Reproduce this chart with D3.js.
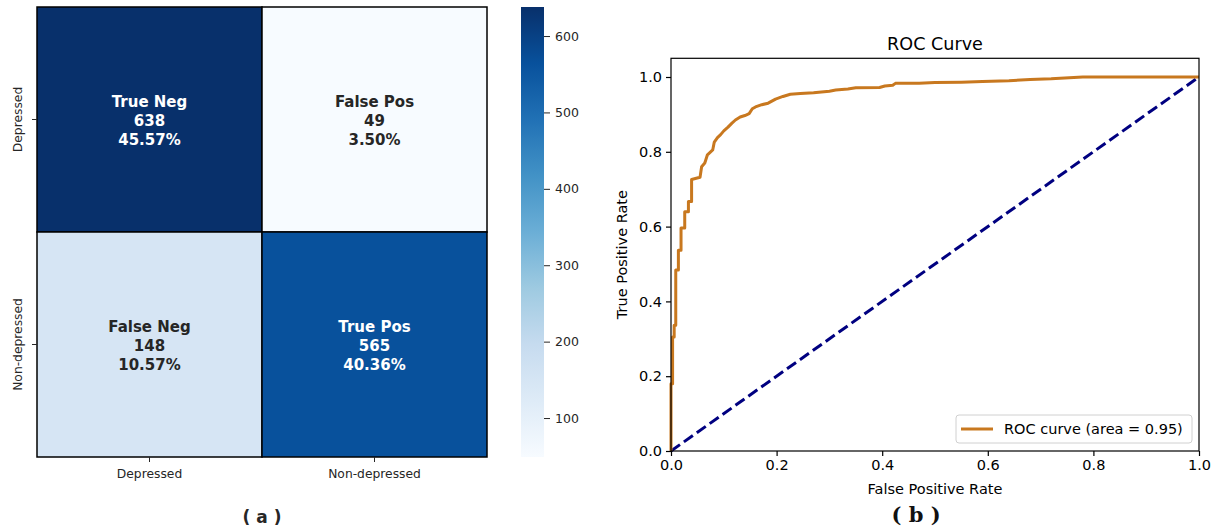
<!DOCTYPE html>
<html>
<head>
<meta charset="utf-8">
<script src="https://cdn.jsdelivr.net/npm/d3@7"></script>
<style>
  body { margin: 0; background: #fff; }
  svg { display: block; font-family: "DejaVu Sans", sans-serif; }
</style>
</head>
<body>
<svg id="fig" width="1217" height="531"></svg>
<script>
// ---- data ----
var classes = ["Depressed", "Non-depressed"];
var counts = [[638, 49], [148, 565]];
var cellNames = [["True Neg", "False Pos"], ["False Neg", "True Pos"]];
var cbarTicks = [100, 200, 300, 400, 500, 600];

// ROC curve points
var fpr = [0, 0, 0.003, 0.003, 0.006, 0.006, 0.009, 0.009, 0.014, 0.014,
           0.019, 0.019, 0.026, 0.026, 0.033, 0.033, 0.039, 0.039, 0.055, 0.058,
           0.064, 0.069, 0.079, 0.082, 0.088, 0.094, 0.100, 0.108, 0.115, 0.122,
           0.131, 0.140, 0.148, 0.154, 0.160, 0.172, 0.184, 0.198, 0.212, 0.226,
           0.245, 0.270, 0.300, 0.312, 0.335, 0.350, 0.395, 0.405, 0.420, 0.425,
           0.470, 0.500, 0.550, 0.590, 0.640, 0.680, 0.720, 0.780, 1.0];
var tpr = [0, 0.180, 0.180, 0.305, 0.305, 0.336, 0.336, 0.484, 0.484, 0.537,
           0.537, 0.596, 0.596, 0.640, 0.640, 0.667, 0.667, 0.726, 0.732, 0.760,
           0.770, 0.792, 0.805, 0.826, 0.838, 0.846, 0.856, 0.866, 0.876, 0.885,
           0.893, 0.897, 0.902, 0.915, 0.920, 0.926, 0.930, 0.941, 0.948, 0.954,
           0.956, 0.958, 0.962, 0.965, 0.968, 0.971, 0.972, 0.976, 0.978, 0.983,
           0.983, 0.985, 0.986, 0.988, 0.990, 0.993, 0.995, 1.0, 1.0];
var aucLabel = "ROC curve (area = 0.95)";

var svg = d3.select("#fig");
var total = d3.sum(counts, function(r) { return d3.sum(r); });
var vmin = d3.min(counts, function(r) { return d3.min(r); });
var vmax = d3.max(counts, function(r) { return d3.max(r); });

// matplotlib "Blues" = linear ramp over the 9 ColorBrewer stops
var blues = d3.schemeBlues[9];
var color = d3.scaleLinear()
    .domain(d3.range(9).map(function(i) { return vmin + (vmax - vmin) * i / 8; }))
    .range(blues);

// ---- (a) confusion matrix ----
var hm = { left: 37, top: 7, size: 450 };
var x = d3.scaleBand().domain(classes).range([hm.left, hm.left + hm.size]);
var y = d3.scaleBand().domain(classes).range([hm.top, hm.top + hm.size]);

var cells = [];
counts.forEach(function(row, i) {
    row.forEach(function(v, j) {
        cells.push({ r: classes[i], c: classes[j], v: v, name: cellNames[i][j] });
    });
});

svg.append("g").selectAll("rect")
    .data(cells).enter().append("rect")
    .attr("x", function(d) { return x(d.c); })
    .attr("y", function(d) { return y(d.r); })
    .attr("width", x.bandwidth())
    .attr("height", y.bandwidth())
    .attr("fill", function(d) { return color(d.v); })
    .attr("stroke", "#000")
    .attr("stroke-width", 1.5);

var labels = svg.append("g").selectAll("text")
    .data(cells).enter().append("text")
    .attr("text-anchor", "middle")
    .attr("font-weight", "bold")
    .attr("font-size", "15px")
    .attr("fill", function(d) { return d.v > (vmin + vmax) / 2 ? "#fff" : "#262626"; })
    .attr("x", function(d) { return x(d.c) + x.bandwidth() / 2; })
    .attr("y", function(d) { return y(d.r) + y.bandwidth() / 2 - 13; });
labels.each(function(d) {
    var t = d3.select(this);
    [d.name, d.v, (d.v / total * 100).toFixed(2) + "%"].forEach(function(s, k) {
        t.append("tspan").attr("x", x(d.c) + x.bandwidth() / 2)
            .attr("dy", k === 0 ? 0 : 19).text(s);
    });
});

var xAxisA = svg.append("g")
    .attr("transform", "translate(0," + (hm.top + hm.size) + ")")
    .call(d3.axisBottom(x).tickSize(5).tickPadding(4));
var yAxisA = svg.append("g")
    .attr("transform", "translate(" + hm.left + ",0)")
    .call(d3.axisLeft(y).tickSize(5).tickPadding(4));
[xAxisA, yAxisA].forEach(function(g) {
    g.select(".domain").remove();
    g.selectAll("line").attr("stroke", "#262626").attr("stroke-width", 1);
    g.selectAll("text").attr("font-size", "12.3px").attr("fill", "#262626")
        .attr("font-family", "DejaVu Sans");
});
xAxisA.selectAll("text").attr("dy", "1em");
yAxisA.selectAll(".tick text")
    .attr("text-anchor", "middle")
    .attr("x", 0).attr("y", 0).attr("dy", "0")
    .attr("transform", "translate(-15,0) rotate(-90)");

// colorbar
var cb = { left: 521, width: 23 };
var cbScale = d3.scaleLinear().domain([vmin, vmax]).range([hm.top + hm.size, hm.top]);
var grad = svg.append("defs").append("linearGradient")
    .attr("id", "cbgrad").attr("x1", 0).attr("y1", 1).attr("x2", 0).attr("y2", 0);
grad.selectAll("stop").data(color.domain()).enter().append("stop")
    .attr("offset", function(d) { return (d - vmin) / (vmax - vmin); })
    .attr("stop-color", function(d) { return color(d); });
svg.append("rect")
    .attr("x", cb.left).attr("y", hm.top)
    .attr("width", cb.width).attr("height", hm.size)
    .attr("fill", "url(#cbgrad)");
var cbAxis = svg.append("g")
    .attr("transform", "translate(" + (cb.left + cb.width) + ",0)")
    .call(d3.axisRight(cbScale).tickValues(cbarTicks).tickSize(6).tickPadding(5));
cbAxis.select(".domain").remove();
cbAxis.selectAll("line").attr("stroke", "#262626");
cbAxis.selectAll("text").attr("font-size", "12.5px").attr("fill", "#262626")
    .attr("font-family", "DejaVu Sans");

svg.append("text")
    .attr("x", 262).attr("y", 523)
    .attr("text-anchor", "middle")
    .attr("font-family", "DejaVu Sans")
    .attr("font-weight", "bold").attr("font-size", "17px").attr("fill", "#262626")
    .text("( a )");

// ---- (b) ROC curve ----
var rx = d3.scaleLinear().domain([0, 1]).range([671, 1199]);
var ry = d3.scaleLinear().domain([0, 1.05]).range([451, 58.3]);

svg.append("path")
    .datum([[0, 0], [1, 1]])
    .attr("fill", "none").attr("stroke", "#000080")
    .attr("stroke-width", 3).attr("stroke-dasharray", "11,4.8")
    .attr("d", d3.line().x(function(d) { return rx(d[0]); }).y(function(d) { return ry(d[1]); }));

svg.append("path")
    .datum(d3.zip(fpr, tpr))
    .attr("fill", "none").attr("stroke", "#c8781f")
    .attr("stroke-width", 3).attr("stroke-linejoin", "round")
    .attr("d", d3.line().x(function(d) { return rx(d[0]); }).y(function(d) { return ry(d[1]); }));

var xAxisB = svg.append("g")
    .attr("transform", "translate(0," + ry(0) + ")")
    .call(d3.axisBottom(rx).tickValues(d3.range(0, 1.01, 0.2)).tickFormat(d3.format(".1f")).tickSize(5).tickPadding(4));
var yAxisB = svg.append("g")
    .attr("transform", "translate(" + rx(0) + ",0)")
    .call(d3.axisLeft(ry).tickValues(d3.range(0, 1.01, 0.2)).tickFormat(d3.format(".1f")).tickSize(5).tickPadding(4));
[xAxisB, yAxisB].forEach(function(g) {
    g.select(".domain").remove();
    g.selectAll("line").attr("stroke", "#000").attr("stroke-width", 1.2);
    g.selectAll("text").attr("font-size", "14.5px").attr("fill", "#000")
        .attr("font-family", "DejaVu Sans");
});

svg.append("rect")
    .attr("x", rx(0)).attr("y", ry(1.05))
    .attr("width", rx(1) - rx(0)).attr("height", ry(0) - ry(1.05))
    .attr("fill", "none").attr("stroke", "#000").attr("stroke-width", 1.2);

svg.append("text")
    .attr("x", (rx(0) + rx(1)) / 2).attr("y", 50)
    .attr("text-anchor", "middle").attr("font-size", "17.6px")
    .text("ROC Curve");
svg.append("text")
    .attr("x", (rx(0) + rx(1)) / 2).attr("y", 494)
    .attr("text-anchor", "middle").attr("font-size", "14.5px")
    .text("False Positive Rate");
svg.append("text")
    .attr("transform", "translate(627," + (ry(0) + ry(1.05)) / 2 + ") rotate(-90)")
    .attr("text-anchor", "middle").attr("font-size", "14.5px")
    .text("True Positive Rate");

// legend
var lg = svg.append("g").attr("transform", "translate(956,415)");
lg.append("rect")
    .attr("width", 236).attr("height", 28).attr("rx", 3)
    .attr("fill", "#fff").attr("fill-opacity", 0.8)
    .attr("stroke", "#d0d0d0");
lg.append("line")
    .attr("x1", 5).attr("x2", 37).attr("y1", 14).attr("y2", 14)
    .attr("stroke", "#c8781f").attr("stroke-width", 3);
lg.append("text")
    .attr("x", 48).attr("y", 19).attr("font-size", "14.5px")
    .text(aucLabel);

svg.append("text")
    .attr("x", 916).attr("y", 522)
    .attr("text-anchor", "middle")
    .attr("font-family", "DejaVu Serif").attr("font-weight", "bold")
    .attr("font-size", "21px").attr("fill", "#111")
    .text("( b )");
</script>
</body>
</html>
